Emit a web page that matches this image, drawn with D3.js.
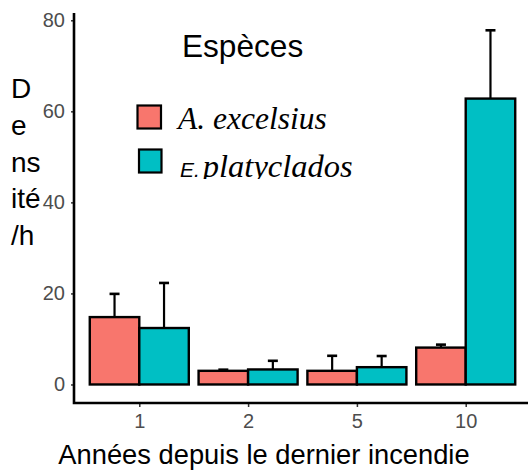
<!DOCTYPE html>
<html>
<head>
<meta charset="utf-8">
<script src="https://cdn.jsdelivr.net/npm/d3@7"></script>
<style>
body { margin: 0; background: #fff; }
svg { display: block; }
</style>
</head>
<body>
<svg width="528" height="470"></svg>
<script>
// donnees
var annees = ["1", "2", "5", "10"];
var especes = ["A. excelsius", "E. platyclados"];
var couleurs = ["#F8766D", "#00BFC4"];
var moyA = [14.8, 3.0, 3.0, 8.1];
var seA = [5.1, 0.25, 3.3, 0.65];
var moyE = [12.4, 3.3, 3.8, 62.8];
var seE = [9.9, 1.9, 2.45, 15.0];
var yTicks = [0, 20, 40, 60, 80];
var titreY = ["D", "e", "ns", "ité", "/h"];

var dataset = [];
annees.forEach(function(a, i) {
    dataset.push({annee: a, sp: 0, moy: moyA[i], se: seA[i]});
    dataset.push({annee: a, sp: 1, moy: moyE[i], se: seE[i]});
});

var panel = {left: 74, right: 531, top: 13, bottom: 403};

var xScale = d3.scalePoint().domain(annees).range([panel.left, panel.right]).padding(0.6);
var step = xScale.step();
var barW = step * 0.455;

var yScale = d3.scaleLinear().domain([-4.07, 81.6]).range([panel.bottom, panel.top]);

var svg = d3.select('svg');
var g = svg.append('g');

// barres d'erreur (partie haute seulement)
var err = g.selectAll('.err').data(dataset).enter().append('g').attr('class', 'err');
err.append('line')
    .attr('x1', d => xScale(d.annee) + (d.sp - 0.5) * barW)
    .attr('x2', d => xScale(d.annee) + (d.sp - 0.5) * barW)
    .attr('y1', d => yScale(d.moy))
    .attr('y2', d => yScale(d.moy + d.se))
    .attr('stroke', 'black').attr('stroke-width', 2.2);
err.append('line')
    .attr('x1', d => xScale(d.annee) + (d.sp - 0.5) * barW - 5)
    .attr('x2', d => xScale(d.annee) + (d.sp - 0.5) * barW + 5)
    .attr('y1', d => yScale(d.moy + d.se))
    .attr('y2', d => yScale(d.moy + d.se))
    .attr('stroke', 'black').attr('stroke-width', 2.6);

// barres
g.selectAll('.bar').data(dataset).enter().append('rect')
    .attr('class', 'bar')
    .attr('x', d => xScale(d.annee) + (d.sp - 1) * barW)
    .attr('width', barW)
    .attr('y', d => yScale(d.moy))
    .attr('height', d => yScale(0) - yScale(d.moy))
    .attr('fill', d => couleurs[d.sp])
    .attr('stroke', 'black')
    .attr('stroke-width', 2.4);

// axe x
var xAxisGroup = svg.append('g').attr('transform', 'translate(0,' + panel.bottom + ')');
xAxisGroup.call(d3.axisBottom(xScale).tickSize(4).tickPadding(7));
xAxisGroup.select('.domain').remove();
xAxisGroup.selectAll('.tick line').attr('stroke', '#333').attr('stroke-width', 1.5);
xAxisGroup.selectAll('.tick text').attr('fill', '#4d4d4d')
    .style('font-family', 'Liberation Sans, Arial, sans-serif').style('font-size', '20px');

// axe y
var yAxisGroup = svg.append('g').attr('transform', 'translate(' + panel.left + ',0)');
yAxisGroup.call(d3.axisLeft(yScale).tickValues(yTicks).tickSize(3).tickPadding(6));
yAxisGroup.select('.domain').remove();
yAxisGroup.selectAll('.tick line').attr('stroke', '#333').attr('stroke-width', 1.5);
yAxisGroup.selectAll('.tick text').attr('fill', '#4d4d4d')
    .style('font-family', 'Liberation Sans, Arial, sans-serif').style('font-size', '20px');

// lignes des axes
svg.append('path')
    .attr('d', 'M' + panel.left + ',' + panel.top + 'V' + panel.bottom + 'H528')
    .attr('fill', 'none').attr('stroke', 'black').attr('stroke-width', 2.6);

// titres
svg.append('text')
    .attr('x', 264).attr('y', 464)
    .attr('text-anchor', 'middle')
    .style('font-family', 'Liberation Sans, Arial, sans-serif').style('font-size', '27.3px')
    .text('Années depuis le dernier incendie');

svg.append('g').selectAll('text').data(titreY).enter().append('text')
    .attr('x', 11)
    .attr('y', (d, i) => 98.3 + i * 36.7)
    .style('font-family', 'Liberation Sans, Arial, sans-serif').style('font-size', '28px')
    .text(d => d);

// legende
var leg = svg.append('g');
leg.append('text')
    .attr('x', 182).attr('y', 57)
    .style('font-family', 'Liberation Sans, Arial, sans-serif').style('font-size', '31.6px')
    .text('Espèces');

svg.append('defs').append('clipPath').attr('id', 'clipLeg')
    .append('rect').attr('x', 0).attr('y', 0).attr('width', 528).attr('height', 179);

var keyY = [105.5, 149.5];
leg.selectAll('rect').data(especes).enter().append('rect')
    .attr('x', (d, i) => i === 0 ? 137.5 : 139)
    .attr('y', (d, i) => keyY[i])
    .attr('width', (d, i) => i === 0 ? 23.5 : 22.5)
    .attr('height', 23)
    .attr('fill', (d, i) => couleurs[i])
    .attr('stroke', 'black').attr('stroke-width', 2.2);

leg.append('text')
    .attr('x', 178).attr('y', 128.5)
    .style('font-family', 'Liberation Serif, Times New Roman, serif')
    .style('font-style', 'italic').style('font-size', '31.5px')
    .text(especes[0]);

var lab2 = leg.append('text')
    .attr('x', 180).attr('y', 177)
    .attr('clip-path', 'url(#clipLeg)');
lab2.append('tspan')
    .style('font-family', 'Liberation Sans, Arial, sans-serif')
    .style('font-style', 'italic').style('font-size', '21px')
    .text(especes[1].split(' ')[0]);
lab2.append('tspan')
    .attr('dx', 3)
    .style('font-family', 'Liberation Serif, Times New Roman, serif')
    .style('font-style', 'italic').style('font-size', '32.5px')
    .text(especes[1].split(' ')[1]);
</script>
</body>
</html>
